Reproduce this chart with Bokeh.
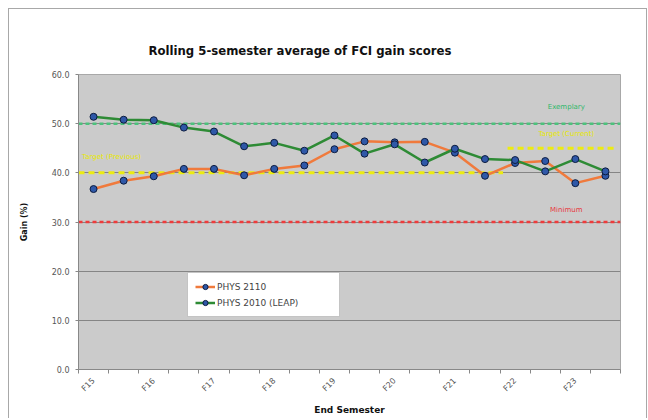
import math
from bokeh.plotting import figure
from bokeh.models import Range1d, FixedTicker, Span, Legend, LegendItem, PrintfTickFormatter
from bokeh.core.properties import value
from bokeh.embed import file_html
from bokeh.resources import INLINE

# ---- data ----
semesters = ["F15", "S16", "F16", "S17", "F17", "S18", "F18", "S19", "F19",
             "S20", "F20", "S21", "F21", "S22", "F22", "S23", "F23", "S24"]
tick_labels = ["F15", "F16", "F17", "F18", "F19", "F20", "F21", "F22", "F23"]
phys2110 = [36.7, 38.4, 39.3, 40.8, 40.8, 39.5, 40.8, 41.5, 44.8,
            46.4, 46.2, 46.3, 44.1, 39.4, 42.0, 42.4, 37.9, 39.4]
phys2010 = [51.4, 50.8, 50.7, 49.2, 48.4, 45.4, 46.1, 44.5, 47.6,
            43.9, 45.8, 42.1, 44.9, 42.8, 42.6, 40.3, 42.8, 40.3]
y_ticks = [0, 10, 20, 30, 40, 50, 60]
exemplary = 50.0
target_previous = 40.0
target_current = 45.0
minimum = 30.0

FONT = "DejaVu Sans"
x = list(range(len(semesters)))

p = figure(frame_width=542, frame_height=295, output_backend="svg", toolbar_location=None,
           x_range=Range1d(-0.5, len(semesters) - 0.5), y_range=Range1d(0, 60),
           min_border_left=69, min_border_right=26, min_border_top=65, min_border_bottom=46,
           background_fill_color="#cbcbcb", border_fill_color="white",
           outline_line_color="#a8a8a8")
p.styles = {"margin-left": "8px", "margin-top": "8px",
            "border-top": "1px solid #a8a8a8", "border-left": "1px solid #a8a8a8",
            "border-right": "1px solid #a8a8a8"}

# title
p.title.text = "Rolling 5-semester average of FCI gain scores"
p.title.text_font = FONT
p.title.text_font_size = "11.7px"
p.title.text_font_style = "bold"
p.title.text_color = "#111111"
p.title.align = "left"
p.title.offset = 70
p.title.standoff = 33

# axes
p.xaxis.ticker = FixedTicker(ticks=[semesters.index(s) for s in tick_labels],
                             minor_ticks=[i - 0.5 for i in range(len(semesters) + 1)])
p.xaxis.major_label_overrides = {semesters.index(s): s for s in tick_labels}
p.xaxis.major_label_orientation = math.pi / 4
p.xaxis.major_tick_line_color = None
p.xaxis.minor_tick_out = 4
p.xaxis.minor_tick_in = 0
p.xaxis.minor_tick_line_color = "#888888"
p.xaxis.axis_line_color = "#888888"
p.xaxis.major_label_text_font = FONT
p.xaxis.major_label_text_font_size = "8px"
p.xaxis.major_label_text_color = "#555555"
p.xaxis.major_label_standoff = 4
p.xaxis.axis_label = "End Semester"
p.xaxis.axis_label_text_font = FONT
p.xaxis.axis_label_text_font_size = "9px"
p.xaxis.axis_label_text_font_style = "bold"
p.xaxis.axis_label_text_color = "#111111"
p.xaxis.axis_label_standoff = 6

p.yaxis.ticker = FixedTicker(ticks=y_ticks)
p.yaxis.formatter = PrintfTickFormatter(format="%.1f")
p.yaxis.minor_tick_line_color = None
p.yaxis.major_tick_out = 3
p.yaxis.major_tick_in = 0
p.yaxis.major_tick_line_color = "#888888"
p.yaxis.axis_line_color = "#888888"
p.yaxis.major_label_text_font = FONT
p.yaxis.major_label_text_font_size = "8px"
p.yaxis.major_label_text_color = "#555555"
p.yaxis.major_label_standoff = 6
p.yaxis.axis_label = "Gain (%)"
p.yaxis.axis_label_text_font = FONT
p.yaxis.axis_label_text_font_size = "8px"
p.yaxis.axis_label_text_font_style = "bold"
p.yaxis.axis_label_text_color = "#111111"
p.yaxis.axis_label_standoff = 20

p.xgrid.visible = False
p.ygrid.ticker = FixedTicker(ticks=y_ticks)
p.ygrid.grid_line_color = "#858585"
p.ygrid.grid_line_width = 1

# reference lines
p.add_layout(Span(location=exemplary, dimension="width", line_color="#4cc27c",
                  line_width=2.5, line_dash="4 3", level="underlay"))
p.add_layout(Span(location=minimum, dimension="width", line_color="#ee3b3b",
                  line_width=2.5, line_dash="4 3", level="underlay"))
split = semesters.index("S22") + 0.6
p.segment(x0=[-0.5], x1=[split], y0=[target_previous], y1=[target_previous],
          line_color="#ecec10", line_width=3, line_dash="6 4")
p.segment(x0=[split + 0.15], x1=[len(semesters) - 0.7], y0=[target_current], y1=[target_current],
          line_color="#ecec10", line_width=3, line_dash="6 4")

# reference labels
ix = semesters.index("S23") + 0.7
p.text(x=[ix], y=[exemplary + 3.3], text=["Exemplary"], text_font=value(FONT),
       text_font_size="7px", text_color="#2fb86a", text_align="center", text_baseline="middle")
p.text(x=[ix], y=[target_current + 3.0], text=["Target (Current)"], text_font=value(FONT),
       text_font_size="7px", text_color="#e8e800", text_align="center", text_baseline="middle")
p.text(x=[-0.38], y=[target_previous + 3.3], text=["Target (Previous)"], text_font=value(FONT),
       text_font_size="7px", text_color="#e8e800", text_align="left", text_baseline="middle")
p.text(x=[ix], y=[minimum + 2.4], text=["Minimum"], text_font=value(FONT),
       text_font_size="7px", text_color="#e8383d", text_align="center", text_baseline="middle")

# series
l1 = p.line(x, phys2110, line_color="#f07a3c", line_width=2.5)
s1 = p.scatter(x, phys2110, size=7, fill_color="#2f58a8", line_color="#0c1c40", line_width=1)
l2 = p.line(x, phys2010, line_color="#2e8b35", line_width=2.5)
s2 = p.scatter(x, phys2010, size=7, fill_color="#2f58a8", line_color="#0c1c40", line_width=1)

legend = Legend(items=[LegendItem(label="PHYS 2110", renderers=[l1, s1]),
                       LegendItem(label="PHYS 2010 (LEAP)", renderers=[l2, s2])],
                location=(109, 52), orientation="vertical")
legend.background_fill_color = "white"
legend.background_fill_alpha = 1.0
legend.border_line_color = "#8a8a8a"
legend.border_line_width = 1
legend.label_text_font = FONT
legend.label_text_font_size = "9px"
legend.label_text_color = "#444444"
legend.glyph_width = 20
legend.glyph_height = 13
legend.label_height = 13
legend.label_width = 115
legend.label_standoff = 2
legend.padding = 7
legend.spacing = 3
legend.margin = 0
p.add_layout(legend)

open("out.html", "w").write(file_html(p, INLINE))
